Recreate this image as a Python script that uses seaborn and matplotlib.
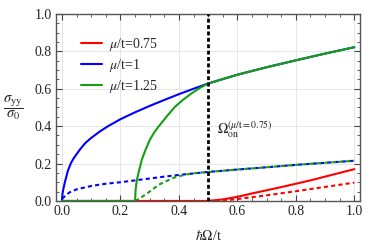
import numpy as np
import pandas as pd
import matplotlib
matplotlib.use("Agg")
import matplotlib.pyplot as plt
import seaborn as sns
from matplotlib.ticker import MultipleLocator, FormatStrFormatter

sns.set_theme(style="ticks")
plt.rcParams['font.family'] = ['Liberation Serif', 'DejaVu Serif']
plt.rcParams['mathtext.fontset'] = 'stix'

# -----------------------------
# Data
# -----------------------------
blue_x = [0, 0.002, 0.005, 0.01, 0.02, 0.03, 0.04, 0.06, 0.08, 0.1, 0.13, 0.16, 0.2, 0.25,
          0.3, 0.35, 0.4, 0.45, 0.5, 0.6, 0.7, 0.8, 0.9, 1.0]
blue_y = [0, 0.04, 0.065, 0.1, 0.16, 0.2, 0.228, 0.272, 0.31, 0.337, 0.372, 0.402, 0.437, 0.474,
          0.508, 0.54, 0.571, 0.6, 0.628, 0.675, 0.715, 0.752, 0.788, 0.822]

green_x = [0, 0.25, 0.25, 0.252, 0.256, 0.265, 0.273, 0.285, 0.3, 0.315, 0.33, 0.36, 0.387,
           0.415, 0.444, 0.47, 0.5, 0.6, 0.7, 0.8, 0.9, 1.0]
green_y = [0, 0, 0, 0.06, 0.11, 0.17, 0.22, 0.27, 0.325, 0.365, 0.397, 0.455, 0.504,
           0.542, 0.576, 0.603, 0.628, 0.675, 0.715, 0.752, 0.788, 0.822]

red_x = [0, 0.5, 0.55, 0.6, 0.65, 0.7, 0.75, 0.8, 0.85, 0.9, 0.95, 1.0]
red_y = [0, 0, 0.008, 0.022, 0.04, 0.057, 0.074, 0.092, 0.11, 0.13, 0.15, 0.17]

red_dash_x = [0.5, 0.55, 0.6, 0.7, 0.8, 0.9, 1.0]
red_dash_y = [0, 0.003, 0.01, 0.03, 0.052, 0.075, 0.098]

blue_dash_x = [0, 0.01, 0.025, 0.05, 0.1, 0.15, 0.2, 0.25, 0.3, 0.35, 0.4, 0.45, 0.5,
               0.6, 0.7, 0.8, 0.9, 1.0]
blue_dash_y = [0.012, 0.025, 0.045, 0.062, 0.08, 0.092, 0.1, 0.11, 0.12, 0.13, 0.139, 0.147, 0.155,
               0.168, 0.18, 0.193, 0.204, 0.215]

green_dash_x = [0.25, 0.267, 0.3, 0.33, 0.36, 0.387, 0.42, 0.45, 0.5, 0.6, 0.7, 0.8, 0.9, 1.0]
green_dash_y = [0, 0.014, 0.05, 0.086, 0.108, 0.127, 0.14, 0.148, 0.155, 0.168, 0.18, 0.193, 0.204, 0.215]

labels = [r"$\mu$/t=0.75", r"$\mu$/t=1", r"$\mu$/t=1.25"]
RED, BLUE, GREEN = "#ff0000", "#0000ff", "#12a012"
omega_on = 0.5

# -----------------------------
# Figure
# -----------------------------
fig = plt.figure(figsize=(3.74, 2.49), dpi=100)
ax = fig.add_axes([0.150, 0.193, 0.813, 0.751])

kw = dict(estimator=None, sort=False, linewidth=1.5, ax=ax)
for xs, ys, c in [(red_dash_x, red_dash_y, RED),
                  (blue_dash_x, blue_dash_y, BLUE),
                  (green_dash_x, green_dash_y, GREEN)]:
    sns.lineplot(x=xs, y=ys, color=c, **kw)
    ax.lines[-1].set_dashes((2, 1.5))
    ax.lines[-1].set_dash_capstyle('butt')

sns.lineplot(x=red_x, y=red_y, color=RED, label=labels[0], **kw)
sns.lineplot(x=blue_x, y=blue_y, color=BLUE, label=labels[1], **kw)
sns.lineplot(x=green_x, y=green_y, color=GREEN, label=labels[2], **kw)

ax.axvline(omega_on, color="black", linewidth=2, dashes=(1.4, 0.9), zorder=5)

ax.set_xlim(-0.02, 1.02)
ax.set_ylim(0, 1.0)
ax.xaxis.set_major_locator(MultipleLocator(0.2))
ax.yaxis.set_major_locator(MultipleLocator(0.2))
ax.xaxis.set_minor_locator(MultipleLocator(0.05))
ax.yaxis.set_minor_locator(MultipleLocator(0.05))
ax.xaxis.set_major_formatter(FormatStrFormatter('%.1f'))
ax.yaxis.set_major_formatter(FormatStrFormatter('%.1f'))
ax.tick_params(which='both', direction='in', top=True, right=True, colors='#444444',
               labelcolor='#222222', labelsize=10, pad=3)
ax.tick_params(which='major', length=4, width=0.8)
ax.tick_params(which='minor', length=2, width=0.6)
for s in ax.spines.values():
    s.set_color('#555555')
    s.set_linewidth(1.0)
ax.grid(True, which='major', color='#e6e6e6', linewidth=0.7)
ax.set_axisbelow(True)

ax.set_xlabel(r"$\hbar\Omega$/t", fontsize=10, labelpad=8)
ax.set_ylabel(r"$\dfrac{\sigma_{\rm yy}}{\sigma_0}$", fontsize=10.5, rotation=0, va='center', ha='center')
ax.yaxis.set_label_coords(-0.141, 0.5)

ax.text(0.53, 0.355, r"$\Omega_{\rm on}^{(\mu/{\rm t}=0.75)}$", fontsize=10, color='#222222')

leg = ax.legend(loc='upper left', bbox_to_anchor=(0.04, 0.95), frameon=False, fontsize=10,
                handlelength=1.5, handletextpad=0.5, labelspacing=0.3)

fig.savefig("out.png", dpi=100)
